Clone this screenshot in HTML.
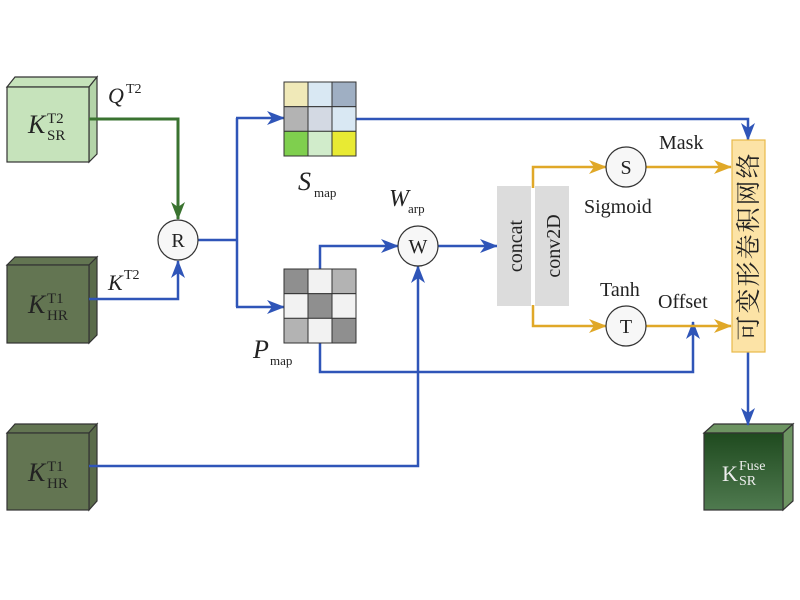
<!DOCTYPE html>
<html><head><meta charset="utf-8"><style>
html,body{margin:0;padding:0;background:#fff;}
svg{display:block;}
text{font-family:"Liberation Serif","Noto Serif CJK SC",serif;fill:#222;}
</style></head><body>
<svg width="800" height="600" viewBox="0 0 800 600" xmlns="http://www.w3.org/2000/svg">
<defs>
<marker id="ag" markerWidth="18" markerHeight="16" refX="17" refY="8" orient="auto" markerUnits="userSpaceOnUse"><path d="M0,1 L18,8 L0,15 L5,8 Z" fill="#3a7330"/></marker>
<marker id="ab2" markerWidth="18" markerHeight="16" refX="17" refY="8" orient="auto" markerUnits="userSpaceOnUse"><path d="M0,1 L18,8 L0,15 L5,8 Z" fill="#2f55b8"/></marker>
<marker id="ay" markerWidth="18" markerHeight="16" refX="17" refY="8" orient="auto" markerUnits="userSpaceOnUse"><path d="M0,1 L18,8 L0,15 L5,8 Z" fill="#e0a828"/></marker>
<linearGradient id="gk" x1="0" y1="0" x2="0" y2="1"><stop offset="0" stop-color="#1f4a1f"/><stop offset="1" stop-color="#4f7a4f"/></linearGradient>
</defs>

<g stroke="#333" stroke-width="1.2">
<path d="M7,87 L15,77 L97,77 L89,87 Z" fill="#c6e3bb"/>
<path d="M89,87 L97,77 L97,154 L89,162 Z" fill="#b4d4a9"/>
<rect x="7" y="87" width="82" height="75" fill="#c6e3bb"/>
<path d="M7,265 L15,257 L97,257 L89,265 Z" fill="#637552"/>
<path d="M89,265 L97,257 L97,335 L89,343 Z" fill="#5a6b4a"/>
<rect x="7" y="265" width="82" height="78" fill="#637552"/>
<path d="M7,433 L15,424 L97,424 L89,433 Z" fill="#637552"/>
<path d="M89,433 L97,424 L97,501 L89,510 Z" fill="#5a6b4a"/>
<rect x="7" y="433" width="82" height="77" fill="#637552"/>
<path d="M704,433 L714,424 L793,424 L783,433 Z" fill="#6d9462"/>
<path d="M783,433 L793,424 L793,501 L783,510 Z" fill="#6d9462"/>
<rect x="704" y="433" width="79" height="77" fill="url(#gk)"/>
</g>
<text x="28" y="133" font-size="26" font-style="italic">K</text><text x="47" y="123" font-size="15">T2</text><text x="47" y="140" font-size="15">SR</text>
<text x="28" y="313" font-size="26" font-style="italic">K</text><text x="47" y="303" font-size="15">T1</text><text x="47" y="320" font-size="15">HR</text>
<text x="28" y="481" font-size="26" font-style="italic">K</text><text x="47" y="471" font-size="15">T1</text><text x="47" y="488" font-size="15">HR</text>
<text x="722" y="481" font-size="22" style="fill:#eee">K</text><text x="739" y="470" font-size="14" style="fill:#eee">Fuse</text><text x="739" y="485" font-size="14" style="fill:#eee">SR</text>

<text x="108" y="103" font-size="22" font-style="italic">Q</text><text x="126" y="93" font-size="14">T2</text>
<text x="108" y="290" font-size="22" font-style="italic">K</text><text x="124" y="279" font-size="14">T2</text>

<polyline points="89,119 178,119 178,219" fill="none" stroke="#3a7330" stroke-width="3" marker-end="url(#ag)"/>
<polyline points="89,299 178,299 178,261" fill="none" stroke="#2f55b8" stroke-width="2.5" marker-end="url(#ab2)"/>
<polyline points="198,240 237,240" fill="none" stroke="#2f55b8" stroke-width="2.5"/>
<polyline points="237,118 237,307" fill="none" stroke="#2f55b8" stroke-width="2.5"/>
<polyline points="236,118 284,118" fill="none" stroke="#2f55b8" stroke-width="2.5" marker-end="url(#ab2)"/>
<polyline points="236,307 284,307" fill="none" stroke="#2f55b8" stroke-width="2.5" marker-end="url(#ab2)"/>
<polyline points="356,119 748,119 748,140" fill="none" stroke="#2f55b8" stroke-width="2.5" marker-end="url(#ab2)"/>
<polyline points="320,269 320,246 398,246" fill="none" stroke="#2f55b8" stroke-width="2.5" marker-end="url(#ab2)"/>
<polyline points="438,246 497,246" fill="none" stroke="#2f55b8" stroke-width="2.5" marker-end="url(#ab2)"/>
<polyline points="320,343 320,372 693,372 693,322" fill="none" stroke="#2f55b8" stroke-width="2.5" marker-end="url(#ab2)"/>
<polyline points="89,466 418,466 418,266" fill="none" stroke="#2f55b8" stroke-width="2.5" marker-end="url(#ab2)"/>
<polyline points="748,352 748,425" fill="none" stroke="#2f55b8" stroke-width="2.5" marker-end="url(#ab2)"/>

<polyline points="533,188 533,167 606,167" fill="none" stroke="#e0a828" stroke-width="2.5" marker-end="url(#ay)"/>
<polyline points="646,167 731,167" fill="none" stroke="#e0a828" stroke-width="2.5" marker-end="url(#ay)"/>
<polyline points="533,305 533,326 606,326" fill="none" stroke="#e0a828" stroke-width="2.5" marker-end="url(#ay)"/>
<polyline points="646,326 731,326" fill="none" stroke="#e0a828" stroke-width="2.5" marker-end="url(#ay)"/>

<g fill="#f7f7f7" stroke="#333" stroke-width="1.2">
<circle cx="178" cy="240" r="20"/><circle cx="418" cy="246" r="20"/>
<circle cx="626" cy="167" r="20"/><circle cx="626" cy="326" r="20"/>
</g>
<g font-size="20" text-anchor="middle">
<text x="178" y="247">R</text><text x="418" y="253">W</text><text x="626" y="174">S</text><text x="626" y="333">T</text>
</g>

<g stroke="#333" stroke-width="1">
<rect x="284" y="82" width="24" height="24.7" fill="#f0e9b8"/><rect x="308" y="82" width="24" height="24.7" fill="#d9e8f3"/><rect x="332" y="82" width="24" height="24.7" fill="#9fafc3"/>
<rect x="284" y="106.7" width="24" height="24.7" fill="#b3b3b3"/><rect x="308" y="106.7" width="24" height="24.7" fill="#d3d9e3"/><rect x="332" y="106.7" width="24" height="24.7" fill="#d9e8f3"/>
<rect x="284" y="131.3" width="24" height="24.7" fill="#7fcf4e"/><rect x="308" y="131.3" width="24" height="24.7" fill="#d1eccb"/><rect x="332" y="131.3" width="24" height="24.7" fill="#e8ea33"/>
<rect x="284" y="269" width="24" height="24.7" fill="#8f8f8f"/><rect x="308" y="269" width="24" height="24.7" fill="#f2f2f2"/><rect x="332" y="269" width="24" height="24.7" fill="#b3b3b3"/>
<rect x="284" y="293.7" width="24" height="24.7" fill="#f2f2f2"/><rect x="308" y="293.7" width="24" height="24.7" fill="#8f8f8f"/><rect x="332" y="293.7" width="24" height="24.7" fill="#f2f2f2"/>
<rect x="284" y="318.3" width="24" height="24.7" fill="#b3b3b3"/><rect x="308" y="318.3" width="24" height="24.7" fill="#f2f2f2"/><rect x="332" y="318.3" width="24" height="24.7" fill="#8f8f8f"/>
</g>
<text x="298" y="190" font-size="26" font-style="italic">S</text><text x="314" y="197" font-size="13">map</text>
<text x="253" y="358" font-size="26" font-style="italic">P</text><text x="270" y="365" font-size="13">map</text>
<text x="389" y="206" font-size="24" font-style="italic">W</text><text x="408" y="213" font-size="13">arp</text>

<rect x="497" y="186" width="34" height="120" fill="#dcdcdc"/>
<rect x="535" y="186" width="34" height="120" fill="#dcdcdc"/>
<text transform="translate(522,246) rotate(-90)" font-size="20" text-anchor="middle">concat</text>
<text transform="translate(560,246) rotate(-90)" font-size="20" text-anchor="middle">conv2D</text>

<rect x="732" y="140" width="33" height="212" fill="#fce3a6" stroke="#e8b94a" stroke-width="1.2"/>
<text transform="translate(757,246) rotate(-90)" font-size="25" text-anchor="middle" letter-spacing="2" style="font-family:'Noto Serif CJK SC','Noto Sans CJK SC',serif">可变形卷积网络</text>

<text x="659" y="149" font-size="20">Mask</text>
<text x="584" y="213" font-size="20">Sigmoid</text>
<text x="600" y="296" font-size="20">Tanh</text>
<text x="658" y="308" font-size="20">Offset</text>
</svg>
</body></html>
